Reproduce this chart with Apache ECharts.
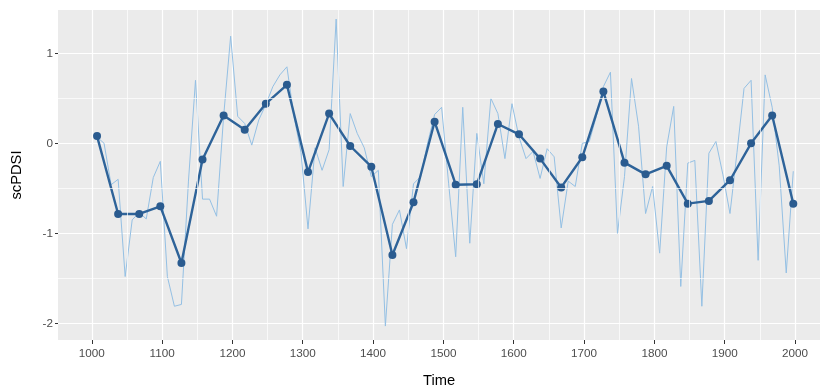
<!DOCTYPE html>
<html>
<head>
<meta charset="utf-8">
<script src="https://cdn.jsdelivr.net/npm/echarts@6/dist/echarts.min.js"></script>
<style>
  html, body { margin: 0; padding: 0; background: #ffffff; }
  #chart { width: 820px; height: 389px; }
</style>
</head>
<body>
<div id="chart"></div>
<script>
// Decadal scPDSI reconstruction (thin line), one value per decade
const decadeYears = Array.from({ length: 100 }, (_, i) => 1007.5 + 10 * i);
const decadeValues = [
  0.07, 0.00, -0.46, -0.40, -1.48, -0.85, -0.77, -0.84, -0.38, -0.20,
  -1.48, -1.81, -1.79, -0.42, 0.70, -0.62, -0.62, -0.81, 0.30, 1.19,
  0.30, 0.22, -0.02, 0.26, 0.43, 0.63, 0.76, 0.85, 0.30, -0.10,
  -0.95, -0.05, -0.30, -0.07, 1.38, -0.48, 0.33, 0.11, -0.05, -0.37,
  -0.30, -2.03, -0.90, -0.74, -1.17, -0.45, -0.37, 0.00, 0.32, 0.40,
  -0.45, -1.26, 0.40, -1.11, 0.11, -0.45, 0.50, 0.33, -0.17, 0.44,
  0.07, -0.17, -0.09, -0.39, -0.06, -0.15, -0.94, -0.42, -0.48, 0.00,
  0.02, 0.30, 0.63, 0.79, -1.00, -0.37, 0.72, 0.19, -0.78, -0.48,
  -1.22, -0.04, 0.41, -1.59, -0.22, -0.19, -1.81, -0.11, 0.02, -0.35,
  -0.78, -0.10, 0.61, 0.70, -1.30, 0.76, 0.40, -0.25, -1.44, -0.31
];

// 30-year scPDSI means (thick line with points)
const triYears = Array.from({ length: 34 }, (_, i) => 1007.5 + 30 * i);
const triValues = [
  0.08, -0.785, -0.785, -0.70, -1.33, -0.18, 0.31, 0.15, 0.44, 0.65,
  -0.32, 0.33, -0.03, -0.26, -1.24, -0.655, 0.24, -0.46, -0.455, 0.215,
  0.10, -0.17, -0.49, -0.155, 0.575, -0.215, -0.345, -0.25, -0.67, -0.64,
  -0.41, 0.00, 0.31, -0.67
];

// Axis ticks and minor grid positions
const xTicks = [1000, 1100, 1200, 1300, 1400, 1500, 1600, 1700, 1800, 1900, 2000];
const xMinor = [1050, 1150, 1250, 1350, 1450, 1550, 1650, 1750, 1850, 1950];
const yTicks = [-2, -1, 0, 1];
const yMinor = [-1.5, -0.5, 0.5];

const chart = echarts.init(document.getElementById('chart'), null, { renderer: 'canvas' });

const minorLines = xMinor.map(v => ({ xAxis: v }))
  .concat(yMinor.map(v => ({ yAxis: v })));

const FONT = 'Liberation Sans, Arial, sans-serif';

chart.setOption({
  animation: false,
  backgroundColor: '#ffffff',
  textStyle: { fontFamily: FONT },
  grid: {
    left: 58, right: 0, top: 10, bottom: 49,
    outerBoundsMode: 'none',
    containLabel: false,
    show: true, backgroundColor: '#EBEBEB', borderWidth: 0
  },
  xAxis: {
    type: 'value',
    min: 952, max: 2035.5,
    name: 'Time',
    nameLocation: 'middle',
    nameGap: 33,
    nameTextStyle: { color: '#000000', fontSize: 14.7, fontFamily: FONT },
    axisLine: { show: false, onZero: false },
    axisTick: { show: true, customValues: xTicks, length: 4, lineStyle: { color: '#333333', width: 1 } },
    axisLabel: {
      customValues: xTicks, color: '#4D4D4D', fontSize: 11.7, margin: 8,
      formatter: v => String(v)
    },
    splitLine: { show: true, lineStyle: { color: '#ffffff', width: 1.2 } }
  },
  yAxis: {
    type: 'value',
    min: -2.185, max: 1.481,
    name: 'scPDSI',
    nameLocation: 'middle',
    nameGap: 34,
    nameRotate: 90,
    nameTextStyle: { color: '#000000', fontSize: 14.7, fontFamily: FONT },
    axisLine: { show: false, onZero: false },
    axisTick: { show: true, customValues: yTicks, length: 3, lineStyle: { color: '#333333', width: 1 } },
    axisLabel: { customValues: yTicks, color: '#4D4D4D', fontSize: 11.7, margin: 5, formatter: v => String(v) },
    splitLine: { show: true, lineStyle: { color: '#ffffff', width: 1.2 } }
  },
  series: [
    {
      // minor grid lines
      type: 'line',
      data: [],
      z: 1,
      silent: true,
      markLine: {
        silent: true,
        symbol: ['none', 'none'],
        label: { show: false },
        emphasis: { disabled: true },
        lineStyle: { color: '#ffffff', width: 0.7, type: 'solid' },
        data: minorLines
      }
    },
    {
      name: 'decadal',
      type: 'line',
      data: decadeYears.map((y, i) => [y, decadeValues[i]]),
      showSymbol: false,
      symbol: 'none',
      z: 2,
      lineStyle: { color: '#94c0e4', width: 1 }
    },
    {
      name: '30-year',
      type: 'line',
      data: triYears.map((y, i) => [y, triValues[i]]),
      symbol: 'circle',
      symbolSize: 8,
      z: 3,
      itemStyle: { color: '#2a5b8f' },
      lineStyle: { color: '#2e6399', width: 2.4 }
    }
  ]
});
</script>
</body>
</html>
